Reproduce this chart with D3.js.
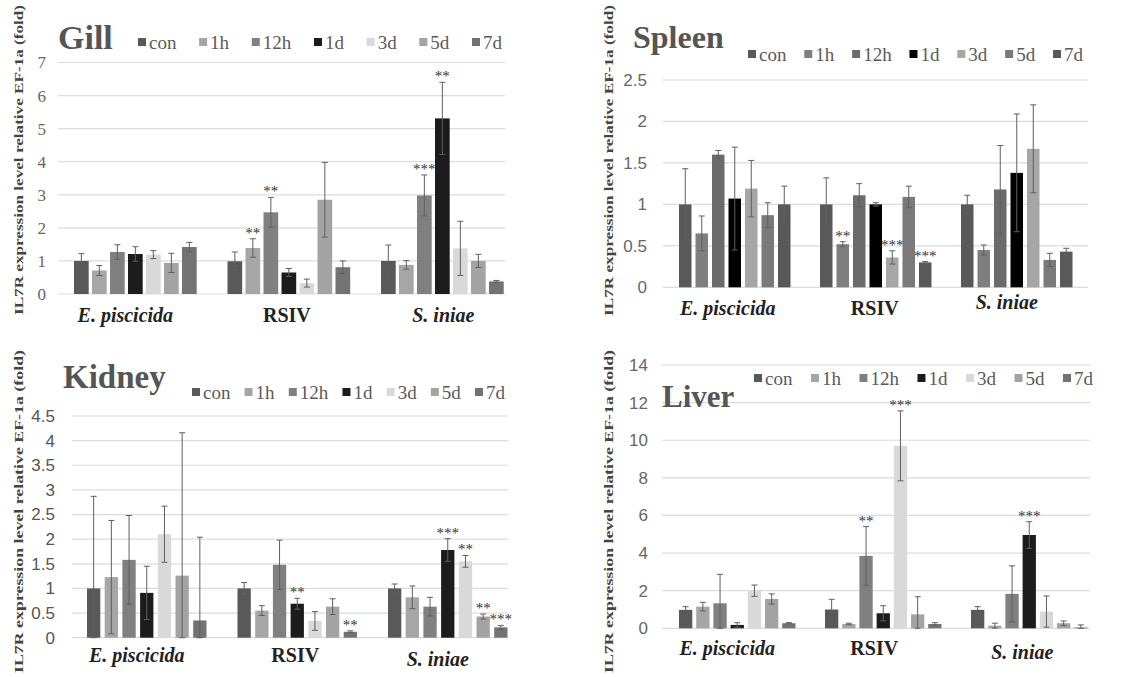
<!DOCTYPE html>
<html>
<head>
<meta charset="utf-8">
<script src="https://cdn.jsdelivr.net/npm/d3@7"></script>
<style>
  body { margin: 0; background: #fff; }
  svg { display: block; }
  text { -webkit-font-smoothing: antialiased; }
</style>
</head>
<body>
<div id="chart"></div>
<script>
// IL7R expression, 4 tissues, grouped bars with error bars
const series = ['con', '1h', '12h', '1d', '3d', '5d', '7d'];
const groups = ['E. piscicida', 'RSIV', 'S. iniae'];

const gillMean = [[1.0, 0.71, 1.27, 1.21, 1.19, 0.94, 1.42], [0.99, 1.39, 2.47, 0.65, 0.33, 2.85, 0.81], [1.0, 0.88, 2.98, 5.31, 1.38, 1.0, 0.38]];
const gillErr  = [[0.22, 0.15, 0.22, 0.22, 0.12, 0.29, 0.14], [0.28, 0.28, 0.45, 0.12, 0.12, 1.13, 0.19], [0.48, 0.13, 0.62, 1.09, 0.82, 0.2, 0.03]];
const gillSig  = [['', '', '', '', '', '', ''], ['', '**', '**', '', '', '', ''], ['', '', '***', '**', '', '', '']];

const spleenMean = [[1.0, 0.65, 1.6, 1.07, 1.19, 0.87, 1.0], [1.0, 0.52, 1.11, 1.0, 0.36, 1.09, 0.3], [1.0, 0.45, 1.18, 1.38, 1.67, 0.33, 0.43]];
const spleenErr  = [[0.43, 0.21, 0.05, 0.62, 0.34, 0.15, 0.22], [0.32, 0.03, 0.14, 0.02, 0.08, 0.13, 0.01], [0.11, 0.06, 0.53, 0.71, 0.53, 0.08, 0.04]];
const spleenSig  = [['', '', '', '', '', '', ''], ['', '**', '', '', '***', '', '***'], ['', '', '', '', '', '', '']];

const kidneyMean = [[1.0, 1.23, 1.58, 0.91, 2.1, 1.26, 0.35], [1.0, 0.55, 1.48, 0.69, 0.34, 0.63, 0.12], [1.0, 0.82, 0.63, 1.78, 1.55, 0.43, 0.21]];
const kidneyErr  = [[1.87, 1.15, 0.9, 0.54, 0.57, 2.9, 1.69], [0.12, 0.1, 0.5, 0.11, 0.19, 0.16, 0.02], [0.09, 0.23, 0.19, 0.23, 0.12, 0.05, 0.04]];
const kidneySig  = [['', '', '', '', '', '', ''], ['', '', '', '**', '', '', '**'], ['', '', '', '***', '**', '**', '***']];

const liverMean = [[0.98, 1.15, 1.33, 0.18, 2.0, 1.56, 0.27], [1.0, 0.23, 3.85, 0.8, 9.7, 0.74, 0.23], [0.98, 0.14, 1.83, 4.96, 0.89, 0.27, 0.04]];
const liverErr  = [[0.17, 0.23, 1.54, 0.12, 0.3, 0.27, 0.03], [0.54, 0.04, 1.56, 0.4, 1.86, 0.94, 0.07], [0.17, 0.13, 1.49, 0.71, 0.83, 0.12, 0.14]];
const liverSig  = [['', '', '', '', '', '', ''], ['', '', '**', '', '***', '', ''], ['', '', '', '***', '', '', '']];

const colorsA = ['#595959', '#a6a6a6', '#808080', '#1c1c1c', '#d9d9d9', '#a3a3a3', '#737373'];
const colorsB = ['#595959', '#7f7f7f', '#6b6b6b', '#000000', '#a6a6a6', '#7a7a7a', '#595959'];

const yTitle = 'IL7R expression level relative EF-1a (fold)';

const W = 1132, H = 677;
const svg = d3.select('#chart').append('svg').attr('width', W).attr('height', H);

const panels = [
    { name: 'Gill', mean: gillMean, err: gillErr, sig: gillSig, colors: colorsA,
      max: 7, step: 1, y0: 294, yTop: 62.5, gx0: 58, gx1: 505,
      barStart: 74, groupStep: 153.5, pitch: 18, barW: 14.7,
      tickX: 46, tickFont: 'Liberation Serif, serif', tickColor: '#666',
      title: { x: 58, y: 49, size: 34 }, legend: { x0: 138, x1: 502, y: 42 },
      axisT: { x: 18, y0: 5, y1: 315 }, catY: [322, 322, 322], catDx: [-10, -2, 1] },
    { name: 'Spleen', mean: spleenMean, err: spleenErr, sig: spleenSig, colors: colorsB,
      max: 2.5, step: 0.5, y0: 287.3, yTop: 80, gx0: 663, gx1: 1088,
      barStart: 679, groupStep: 141, pitch: 16.5, barW: 12.5,
      tickX: 647, tickFont: 'Liberation Sans, sans-serif', tickColor: '#666',
      title: { x: 633, y: 48, size: 32 }, legend: { x0: 748, x1: 1083, y: 54 },
      axisT: { x: 608, y0: 5, y1: 316 }, catY: [315, 315, 309], catDx: [-7, -1, -10] },
    { name: 'Kidney', mean: kidneyMean, err: kidneyErr, sig: kidneySig, colors: colorsA,
      max: 4.5, step: 0.5, y0: 637.7, yTop: 416, gx0: 72, gx1: 508,
      barStart: 87, groupStep: 150.5, pitch: 17.7, barW: 13.3,
      tickX: 55, tickFont: 'Liberation Sans, sans-serif', tickColor: '#555',
      title: { x: 63, y: 388, size: 33 }, legend: { x0: 192, x1: 505, y: 392 },
      axisT: { x: 18, y0: 350, y1: 673 }, catY: [662, 662, 666], catDx: [-10, -2, -10] },
    { name: 'Liver', mean: liverMean, err: liverErr, sig: liverSig, colors: colorsA,
      max: 14, step: 2, y0: 628.3, yTop: 365, gx0: 662, gx1: 1090,
      barStart: 679, groupStep: 146, pitch: 17.2, barW: 13.3,
      tickX: 648, tickFont: 'Liberation Sans, sans-serif', tickColor: '#666',
      title: { x: 662, y: 407, size: 31 }, legend: { x0: 754, x1: 1093, y: 378 },
      axisT: { x: 608, y0: 350, y1: 673 }, catY: [655, 655, 659], catDx: [-10, -9, -7] }
];

panels.forEach(p => {
    const g = svg.append('g');

    const y = d3.scaleLinear().domain([0, p.max]).range([p.y0, p.yTop]);
    const ticks = d3.range(0, p.max + p.step / 2, p.step);

    const padIn = 1 - p.barW / p.pitch;
    const inner = d3.scaleBand().domain(series).range([0, 7 * p.pitch])
        .paddingInner(padIn).paddingOuter(padIn / 2);
    const gStart = p.barStart - inner(series[0]);
    const outer = d3.scaleBand().domain(groups).range([gStart, gStart + 3 * p.groupStep]);

    // gridlines
    g.append('g').selectAll('line').data(ticks).join('line')
        .attr('x1', p.gx0).attr('x2', p.gx1)
        .attr('y1', d => y(d)).attr('y2', d => y(d))
        .attr('stroke', '#dcdcdc').attr('stroke-width', 1.2);

    // tick labels
    g.append('g').selectAll('text').data(ticks).join('text')
        .attr('x', p.tickX).attr('y', d => y(d)).attr('dy', '0.35em')
        .attr('text-anchor', 'end')
        .attr('font-family', p.tickFont).attr('font-size', 17)
        .attr('fill', p.tickColor)
        .text(d => d3.format('~g')(d));

    // bars
    const rows = [];
    groups.forEach((grp, gi) => series.forEach((s, si) => {
        rows.push({ grp, s, si, v: p.mean[gi][si], e: p.err[gi][si], sig: p.sig[gi][si] });
    }));
    const bx = d => outer(d.grp) + inner(d.s);

    g.append('g').selectAll('rect').data(rows).join('rect')
        .attr('x', bx).attr('width', inner.bandwidth())
        .attr('y', d => y(d.v)).attr('height', d => y(0) - y(d.v))
        .attr('fill', d => p.colors[d.si]);

    // error bars
    const eb = g.append('g').attr('stroke', '#5f5f5f').attr('stroke-width', 1);
    rows.forEach(d => {
        const cx = bx(d) + inner.bandwidth() / 2;
        const top = y(d.v + d.e), bot = y(Math.max(0, d.v - d.e));
        eb.append('line').attr('x1', cx).attr('x2', cx).attr('y1', top).attr('y2', bot);
        eb.append('line').attr('x1', cx - 3).attr('x2', cx + 3).attr('y1', top).attr('y2', top);
        eb.append('line').attr('x1', cx - 3).attr('x2', cx + 3).attr('y1', bot).attr('y2', bot);
    });

    // significance marks
    g.append('g').selectAll('text').data(rows.filter(d => d.sig)).join('text')
        .attr('x', d => bx(d) + inner.bandwidth() / 2)
        .attr('y', d => y(d.v + d.e) - 1)
        .attr('text-anchor', 'middle')
        .attr('font-family', 'Liberation Serif, serif').attr('font-size', 15)
        .attr('fill', '#333')
        .text(d => d.sig);

    // category labels
    g.append('g').selectAll('text').data(groups).join('text')
        .attr('x', (d, i) => outer(d) + 3.5 * p.pitch + p.catDx[i])
        .attr('y', (d, i) => p.catY[i])
        .attr('text-anchor', 'middle')
        .attr('font-family', 'Liberation Serif, serif').attr('font-size', 20)
        .attr('font-weight', 'bold')
        .attr('font-style', d => d === 'RSIV' ? 'normal' : 'italic')
        .attr('fill', '#222')
        .text(d => d);

    // panel title
    g.append('text')
        .attr('x', p.title.x).attr('y', p.title.y)
        .attr('font-family', 'Liberation Serif, serif').attr('font-size', p.title.size)
        .attr('font-weight', 'bold').attr('fill', '#555')
        .text(p.name);

    // y-axis title
    const ty = (p.axisT.y0 + p.axisT.y1) / 2;
    g.append('text')
        .attr('transform', `translate(${p.axisT.x},${ty}) rotate(-90)`)
        .attr('dy', '0.35em')
        .attr('text-anchor', 'middle')
        .attr('font-family', 'Liberation Serif, serif').attr('font-size', 13)
        .attr('font-weight', 'bold').attr('fill', '#444')
        .attr('textLength', p.axisT.y1 - p.axisT.y0)
        .attr('lengthAdjust', 'spacingAndGlyphs')
        .text(yTitle);

    // legend
    const lg = g.append('g');
    const items = series.map((s, i) => {
        const it = lg.append('g');
        it.append('rect').attr('width', 8).attr('height', 8).attr('y', -4)
            .attr('fill', p.colors[i]);
        const t = it.append('text').attr('x', 11).attr('dy', '0.35em')
            .attr('font-family', 'Liberation Serif, serif').attr('font-size', 19)
            .attr('fill', '#5a5a5a').text(s);
        return { it, w: 11 + t.node().getComputedTextLength() };
    });
    const total = d3.sum(items, d => d.w);
    const gap = (p.legend.x1 - p.legend.x0 - total) / (items.length - 1);
    let lx = p.legend.x0;
    items.forEach(d => {
        d.it.attr('transform', `translate(${lx},${p.legend.y})`);
        lx += d.w + gap;
    });
});
</script>
</body>
</html>
